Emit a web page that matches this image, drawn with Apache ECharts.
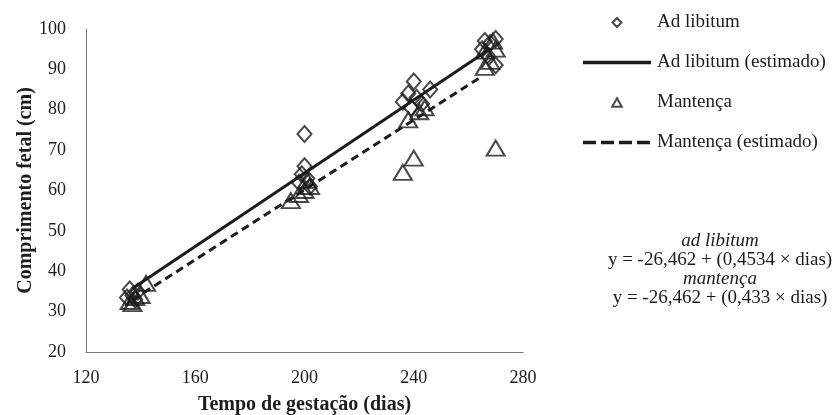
<!DOCTYPE html>
<html>
<head>
<meta charset="utf-8">
<script src="https://cdn.jsdelivr.net/npm/echarts@6/dist/echarts.min.js"></script>
<style>html,body{margin:0;padding:0;background:#fff;}#c{width:837px;height:415px;}</style>
</head>
<body>
<div id="c"></div>
<script>
// Ad libitum observations [days, cm]
const adLibitumPoints = [
  [136, 35.5], [137, 34], [138, 33], [135, 33.5], [139, 35],
  [200, 74], [200, 66], [199, 64], [201, 63], [198, 62], [202, 61],
  [240, 87], [238, 84], [236, 82], [241, 83], [246, 85], [243, 81.5], [239, 80.5],
  [266, 97], [268, 96.5], [270, 97.5], [267, 93.5], [265, 95], [270, 91]
];
// Mantença observations [days, cm]
const mantencaPoints = [
  [136, 32.5], [138, 33.5], [140, 34], [142, 37], [137, 32],
  [195, 57.5], [198, 59], [200, 60], [202, 61], [201, 62.5],
  [238, 77.5], [244, 80.5], [242, 79.5], [240, 68], [236, 64.5],
  [269, 97], [270, 95], [266, 94.5], [268, 92], [266, 90.5], [270, 70.5]
];
// Fitted lines (endpoints)
const adLibitumFit = [[137, 35.7], [268, 95.1]];
const mantencaFit = [[137, 32.9], [265, 88.3]];

const xTicks = { min: 120, max: 280, interval: 40 };
const yTicks = { min: 20, max: 100, interval: 10 };
const seriesNames = ['Ad libitum', 'Ad libitum (estimado)', 'Mantença', 'Mantença (estimado)'];
const equationLines = ['ad libitum', 'y = -26,462 + (0,4534 × dias)', 'mantença', 'y = -26,462 + (0,433 × dias)'];

const FONT = 'Liberation Serif';
const INK = '#1c1c1c';
const BOX = 'M0,0M68,10';
const chart = echarts.init(document.getElementById('c'), null, { renderer: 'canvas' });
chart.setOption({
  animation: false,
  backgroundColor: '#fff',
  grid: { left: 86, top: 29, right: 314, bottom: 63, containLabel: false, outerBoundsMode: 'none' },
  legend: {
    orient: 'vertical',
    left: 582, top: 13, padding: 0,
    itemWidth: 68, itemHeight: 10, itemGap: 21,
    textStyle: { fontFamily: FONT, fontSize: 19, color: INK, padding: [0, 0, 0, 1] },
    data: [
      { name: seriesNames[0], icon: 'path://' + BOX + 'M34,0.5L38.5,5L34,9.5L29.5,5Z' },
      { name: seriesNames[1], icon: 'path://' + BOX + 'M0,3.3L68,3.3L68,6.7L0,6.7Z',
        itemStyle: { color: INK, borderWidth: 0 } },
      { name: seriesNames[2], icon: 'path://' + BOX + 'M34,0.8L38.8,9.2L29.2,9.2Z' },
      { name: seriesNames[3], icon: 'path://' + BOX + 'M0,3.3L13,3.3L13,6.7L0,6.7Z M18,3.3L31,3.3L31,6.7L18,6.7Z M36,3.3L49,3.3L49,6.7L36,6.7Z M54,3.3L67,3.3L67,6.7L54,6.7Z',
        itemStyle: { color: INK, borderWidth: 0 } }
    ]
  },
  xAxis: {
    type: 'value', min: xTicks.min, max: xTicks.max, interval: xTicks.interval,
    name: 'Tempo de gestação (dias)', nameLocation: 'middle', nameGap: 43, nameMoveOverlap: false,
    nameTextStyle: { fontFamily: FONT, fontSize: 20, fontWeight: 'bold', color: INK },
    axisLine: { lineStyle: { color: '#777', width: 1 } },
    axisTick: { show: false },
    splitLine: { show: false },
    axisLabel: { fontFamily: FONT, fontSize: 18, color: INK, margin: 17 }
  },
  yAxis: {
    type: 'value', min: yTicks.min, max: yTicks.max, interval: yTicks.interval,
    name: 'Comprimento fetal (cm)', nameLocation: 'middle', nameGap: 50, nameMoveOverlap: false,
    nameTextStyle: { fontFamily: FONT, fontSize: 20, fontWeight: 'bold', color: INK },
    axisLine: { show: true, lineStyle: { color: '#777', width: 1 } },
    axisTick: { show: false },
    splitLine: { show: false },
    axisLabel: { fontFamily: FONT, fontSize: 18, color: INK, margin: 20 }
  },
  graphic: equationLines.map((t, i) => ({
    type: 'text', x: 720, y: 241 + i * 19,
    style: {
      text: t, fontFamily: FONT, fontSize: 19, fill: INK,
      fontStyle: i % 2 === 0 ? 'italic' : 'normal', textAlign: 'center', textVerticalAlign: 'middle'
    }
  })),
  series: [
    {
      name: seriesNames[0], type: 'scatter', data: adLibitumPoints,
      symbol: 'diamond', symbolSize: [14, 16],
      itemStyle: { color: 'rgba(255,255,255,0)', borderColor: INK, borderWidth: 2 }, z: 3
    },
    {
      name: seriesNames[1], type: 'line', data: adLibitumFit, symbol: 'none',
      itemStyle: { color: INK },
      lineStyle: { color: INK, width: 3, type: 'solid' }, z: 4
    },
    {
      name: seriesNames[2], type: 'scatter', data: mantencaPoints,
      symbol: 'triangle', symbolSize: [18, 15],
      itemStyle: { color: 'rgba(255,255,255,0)', borderColor: INK, borderWidth: 2 }, z: 3
    },
    {
      name: seriesNames[3], type: 'line', data: mantencaFit, symbol: 'none',
      itemStyle: { color: INK },
      lineStyle: { color: INK, width: 3, type: [8, 5] }, z: 4
    }
  ]
});
</script>
</body>
</html>
